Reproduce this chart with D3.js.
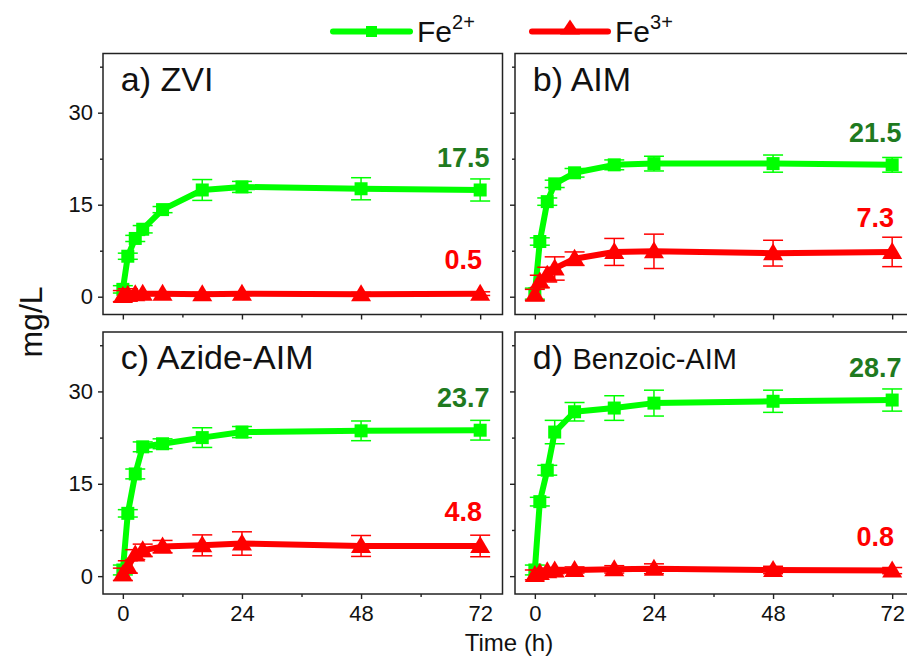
<!DOCTYPE html>
<html><head><meta charset="utf-8">
<script src="https://cdn.jsdelivr.net/npm/d3@7"></script>
<style>body{margin:0;background:#fff} text{font-family:"Liberation Sans",Arial,sans-serif}</style>
</head><body><svg id="c" width="907" height="656"></svg>
<script>
// ---------------- data ----------------
const times = [0, 1, 2.5, 4, 8, 16, 24, 48, 72];
const panelTitles = ["a) ZVI", "b) AIM", "c) Azide-AIM", "d) Benzoic-AIM"];
const seriesNames = ["Fe2+", "Fe3+"];

const fe2ZVI      = [1.2, 6.6, 9.5, 11.0, 14.2, 17.4, 17.9, 17.6, 17.4];
const fe2ZVIErr   = [0.6, 0.5, 0.5, 0.6, 0.5, 1.7, 0.9, 1.8, 1.8];
const fe3ZVI      = [0.1, 0.3, 0.4, 0.5, 0.5, 0.4, 0.5, 0.4, 0.5];
const fe3ZVIErr   = [0.9, 1.0, 0.3, 0.3, 0.3, 0.3, 0.3, 0.3, 0.3];

const fe2AIM      = [0.5, 9.0, 15.5, 18.4, 20.2, 21.5, 21.7, 21.7, 21.5];
const fe2AIMErr   = [0.9, 0.6, 0.6, 0.6, 0.7, 0.8, 1.2, 1.4, 1.2];
const fe3AIM      = [0.3, 2.5, 3.6, 4.6, 6.2, 7.3, 7.4, 7.1, 7.3];
const fe3AIMErr   = [0.9, 1.0, 1.2, 1.9, 1.1, 2.2, 2.8, 2.1, 2.4];

const fe2Azide    = [1.0, 10.2, 16.6, 21.0, 21.5, 22.5, 23.4, 23.6, 23.7];
const fe2AzideErr = [0.8, 0.6, 0.8, 0.8, 0.8, 1.6, 0.9, 1.6, 1.6];
const fe3Azide    = [0.3, 1.5, 3.5, 4.2, 4.8, 5.0, 5.3, 4.9, 4.9];
const fe3AzideErr = [1.0, 1.0, 0.8, 1.0, 1.0, 1.7, 1.9, 1.7, 1.75];

const fe2Benzoic    = [1.0, 12.1, 17.2, 23.4, 26.7, 27.3, 28.1, 28.4, 28.6];
const fe2BenzoicErr = [0.8, 0.7, 0.8, 1.9, 1.5, 2.0, 2.1, 1.8, 1.8];
const fe3Benzoic    = [0.2, 0.5, 0.8, 0.9, 1.0, 1.1, 1.2, 1.0, 0.9];
const fe3BenzoicErr = [0.8, 0.5, 0.5, 0.5, 0.5, 0.6, 0.8, 0.6, 0.5];

const finalFe2Labels = ["17.5", "21.5", "23.7", "28.7"];
const finalFe3Labels = ["0.5", "7.3", "4.8", "0.8"];

const xMajorTicks = [0, 24, 48, 72];
const xMinorTicks = [12, 36, 60];
const yMajorTicks = [0, 15, 30];
const yMinorTicks = [7.5, 22.5, 37.5];

// ---------------- layout ----------------
const GREEN = "#00ff00", RED = "#ff0000", DKGREEN = "#1f7a1f";
const svg = d3.select("#c");
const panels = [
  {title: panelTitles[0], fe2: fe2ZVI, fe2e: fe2ZVIErr, fe3: fe3ZVI, fe3e: fe3ZVIErr, x0: 103, y0: 53.5, y1: 314.5, left: true, bottom: false, l2: finalFe2Labels[0], l3: finalFe3Labels[0]},
  {title: panelTitles[1], fe2: fe2AIM, fe2e: fe2AIMErr, fe3: fe3AIM, fe3e: fe3AIMErr, x0: 515, y0: 53.5, y1: 314.5, left: false, bottom: false, l2: finalFe2Labels[1], l3: finalFe3Labels[1]},
  {title: panelTitles[2], fe2: fe2Azide, fe2e: fe2AzideErr, fe3: fe3Azide, fe3e: fe3AzideErr, x0: 103, y0: 332, y1: 594, left: true, bottom: true, l2: finalFe2Labels[2], l3: finalFe3Labels[2]},
  {title: panelTitles[3], fe2: fe2Benzoic, fe2e: fe2BenzoicErr, fe3: fe3Benzoic, fe3e: fe3BenzoicErr, x0: 515, y0: 332, y1: 594, left: false, bottom: true, l2: finalFe2Labels[3], l3: finalFe3Labels[3]}
];
const W = 399.5;
const triPath = "M0,-10L10,7L-10,7Z";

panels.forEach((p, i) => {
  const x = d3.scaleLinear().domain([-4, 76.5]).range([p.x0, p.x0 + W]);
  const y = d3.scaleLinear().domain([-2.9, 39.65]).range([p.y1, p.y0]);
  const g = svg.append("g");

  // axes (outward ticks)
  const yAx = d3.axisLeft(y).tickValues(yMajorTicks).tickSize(5).tickPadding(5)
    .tickFormat(p.left ? d3.format("d") : () => "");
  const yAxG = g.append("g").attr("transform", `translate(${p.x0},0)`).call(yAx);
  const yMin = g.append("g").attr("transform", `translate(${p.x0},0)`)
    .call(d3.axisLeft(y).tickValues(yMinorTicks).tickSize(3).tickFormat(() => ""));
  const xAx = d3.axisBottom(x).tickValues(xMajorTicks).tickSize(5).tickPadding(6)
    .tickFormat(p.bottom ? d3.format("d") : () => "");
  const xAxG = g.append("g").attr("transform", `translate(0,${p.y1})`).call(xAx);
  const xMin = g.append("g").attr("transform", `translate(0,${p.y1})`)
    .call(d3.axisBottom(x).tickValues(xMinorTicks).tickSize(3).tickFormat(() => ""));
  [yAxG, yMin, xAxG, xMin].forEach(a => {
    a.select(".domain").remove();
    a.selectAll("line").attr("stroke", "#222").attr("stroke-width", 1.4);
    a.selectAll("text").attr("font-size", 22).attr("fill", "#111")
      .style("font-family", '"Liberation Sans",Arial,sans-serif');
  });

  // frame
  g.append("rect").attr("x", p.x0).attr("y", p.y0).attr("width", W).attr("height", p.y1 - p.y0)
    .attr("fill", "none").attr("stroke", "#222").attr("stroke-width", 1.5);

  const series = [
    {v: p.fe2, e: p.fe2e, color: GREEN, marker: "sq"},
    {v: p.fe3, e: p.fe3e, color: RED, marker: "tri"}
  ];
  series.forEach(s => {
    const pts = times.map((t, k) => ({t, v: s.v[k], e: s.e[k]}));
    g.append("path").datum(pts)
      .attr("d", d3.line().x(d => x(d.t)).y(d => y(d.v)))
      .attr("fill", "none").attr("stroke", s.color).attr("stroke-width", 6)
      .attr("stroke-linecap", "round").attr("stroke-linejoin", "round");
    const eb = g.append("g").attr("stroke", s.color).attr("stroke-width", 1.5);
    pts.forEach(d => {
      eb.append("line").attr("x1", x(d.t)).attr("x2", x(d.t)).attr("y1", y(d.v - d.e)).attr("y2", y(d.v + d.e));
      [d.v - d.e, d.v + d.e].forEach(vv => eb.append("line")
        .attr("x1", x(d.t) - 10).attr("x2", x(d.t) + 10).attr("y1", y(vv)).attr("y2", y(vv)));
    });
    pts.forEach(d => {
      if (s.marker === "sq") {
        g.append("rect").attr("x", x(d.t) - 6.5).attr("y", y(d.v) - 6.5)
          .attr("width", 13).attr("height", 13).attr("fill", s.color);
      } else {
        g.append("path").attr("d", triPath)
          .attr("transform", `translate(${x(d.t)},${y(d.v)})`).attr("fill", s.color);
      }
    });
  });

  // end value labels
  g.append("text").attr("x", x(68.6)).attr("y", y(p.fe2[8] + 3.8))
    .attr("text-anchor", "middle").attr("font-size", 27).attr("font-weight", "bold")
    .attr("fill", DKGREEN).text(p.l2);
  g.append("text").attr("x", x(68.6)).attr("y", y(p.fe3[8] + 4.0))
    .attr("text-anchor", "middle").attr("font-size", 27).attr("font-weight", "bold")
    .attr("fill", RED).text(p.l3);

  // panel title
  const parts = p.title.split(") ");
  const tt = g.append("text").attr("x", x(0) - 2).attr("y", p.y0 + 37).attr("font-size", 34).attr("fill", "#111");
  tt.append("tspan").text(parts[0] + ") ");
  tt.append("tspan").attr("font-size", i === 3 ? 29 : 34).text(parts[1]);
});

// axis titles
svg.append("text").attr("transform", "translate(42,322) rotate(-90)").attr("text-anchor", "middle")
  .attr("font-size", 32).attr("fill", "#111").text("mg/L");
svg.append("text").attr("x", 509).attr("y", 651).attr("text-anchor", "middle")
  .attr("font-size", 24).attr("fill", "#111").text("Time (h)");

// legend
const leg = [
  {x1: 333, x2: 410, color: GREEN, marker: "sq", name: seriesNames[0]},
  {x1: 532, x2: 608, color: RED, marker: "tri", name: seriesNames[1]}
];
leg.forEach(l => {
  const ly = 31.5;
  svg.append("line").attr("x1", l.x1).attr("x2", l.x2).attr("y1", ly).attr("y2", ly)
    .attr("stroke", l.color).attr("stroke-width", 6).attr("stroke-linecap", "round");
  const cx = (l.x1 + l.x2) / 2;
  if (l.marker === "sq") svg.append("rect").attr("x", cx - 5.5).attr("y", ly - 5.5).attr("width", 11).attr("height", 11).attr("fill", l.color);
  else svg.append("path").attr("d", "M0,-12L10,3L-10,3Z").attr("transform", `translate(${cx},${ly})`).attr("fill", l.color);
  const t = svg.append("text").attr("x", l.x2 + 7).attr("y", 42).attr("font-size", 30).attr("fill", "#111");
  t.append("tspan").text("Fe");
  t.append("tspan").attr("font-size", 20).attr("dy", -13).text(l.name.slice(2));
});
</script></body></html>
